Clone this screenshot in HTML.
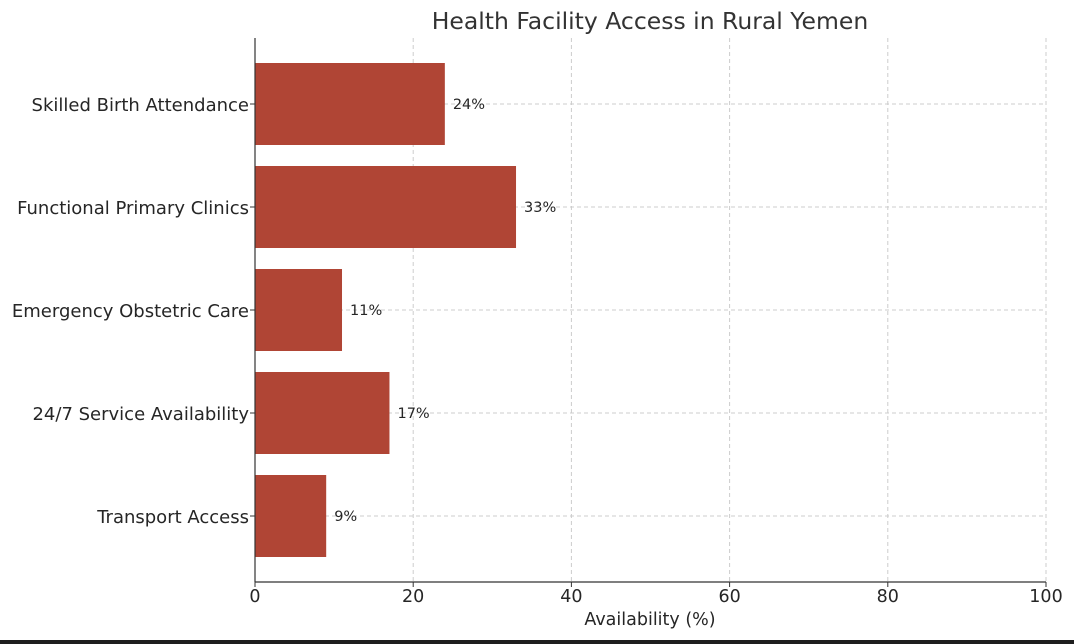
<!DOCTYPE html>
<html><head><meta charset="utf-8"><style>
html,body{margin:0;padding:0;background:#fff;width:1074px;height:644px;overflow:hidden}
svg text{font-family:"DejaVu Sans","Liberation Sans",sans-serif;fill:#262626}
</style></head><body>
<svg id="chart" width="1074" height="644" xmlns="http://www.w3.org/2000/svg">
<rect x="0" y="640" width="1074" height="4" fill="#1e1e1e"/>
<text x="650" y="29" font-size="23.5" text-anchor="middle" style="fill:#333">Health Facility Access in Rural Yemen</text>
<text x="650" y="625" font-size="17.5" text-anchor="middle">Availability (%)</text>
<g id="grid"></g><g id="bars"></g><g id="axes"></g>
</svg>
<script>
const categories=["Skilled Birth Attendance","Functional Primary Clinics","Emergency Obstetric Care","24/7 Service Availability","Transport Access"];
const values=[24,33,11,17,9];
const valueLabels=["24%","33%","11%","17%","9%"];
const ticks=[0,20,40,60,80,100];
const NS="http://www.w3.org/2000/svg";
const x0=255,x1=1046,yTop=38,yBot=582,y0c=104,step=103,bh=82;
const xs=v=>x0+(v/100)*(x1-x0);
const yc=i=>y0c+i*step;
function mk(t,a,p){const e=document.createElementNS(NS,t);for(const k in a)e.setAttribute(k,a[k]);p.appendChild(e);return e;}
const grid=document.getElementById('grid'),bars=document.getElementById('bars'),axes=document.getElementById('axes');
ticks.forEach(t=>{
 const g=mk('line',{x1:xs(t),x2:xs(t),y1:yTop,y2:yBot,stroke:'#cccccc','stroke-dasharray':'4,3','stroke-width':1},grid);
 
 
 const tk=mk('line',{x1:xs(t),x2:xs(t),y1:yBot,y2:yBot+5,stroke:'#333'},axes);
 
 
 const l=mk('text',{x:xs(t),y:602,'font-size':17.5,'text-anchor':'middle'},axes);l.textContent=t;
 
 
});
categories.forEach((c,i)=>{
 const y=yc(i);
 const g=mk('line',{x1:x0,x2:x1,y1:y,y2:y,stroke:'#cccccc','stroke-dasharray':'4,3'},grid);
 
 
 const r=mk('rect',{x:x0,y:y-bh/2,width:xs(values[i])-x0,height:bh,fill:'#b04535'},bars);
 
 
 const v=mk('text',{x:xs(values[i])+8,y:y+5,'font-size':14.5},bars);v.textContent=valueLabels[i];
 
 
 const tk=mk('line',{x1:x0-5,x2:x0,y1:y,y2:y,stroke:'#333'},axes);
 
 
 const l=mk('text',{x:249,y:y+7,'font-size':18,'text-anchor':'end'},axes);l.textContent=c;
 
 
});
const la=mk('line',{x1:x0,x2:x0,y1:yTop,y2:yBot,stroke:'#333','stroke-width':1.2},axes);


const ba=mk('line',{x1:x0,x2:x1,y1:yBot,y2:yBot,stroke:'#333','stroke-width':1.2},axes);


</script>
</body></html>
